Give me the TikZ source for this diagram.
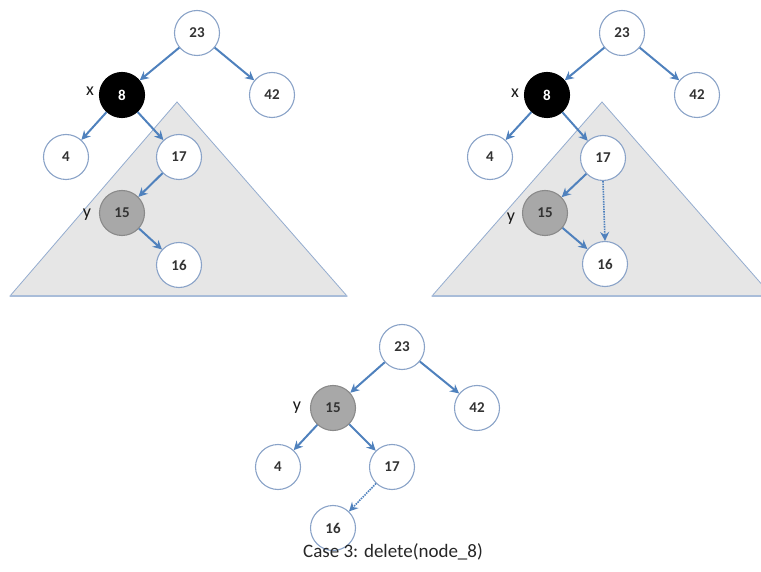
\documentclass[tikz,border=0pt]{standalone}
\usepackage{fontspec}
\setmainfont{Carlito}
\usetikzlibrary{arrows.meta}
\definecolor{arrowblue}{HTML}{4F81BD}
\definecolor{ringblue}{HTML}{8AA3C8}
\definecolor{trifill}{HTML}{E6E6E6}
\definecolor{triedge}{HTML}{94ACCF}
\definecolor{ynode}{HTML}{A8A8A8}
\definecolor{yedge}{HTML}{8A8A8A}
\tikzset{
  tnode/.style={circle, draw=ringblue, line width=1.1pt, fill=white, minimum size=45pt, inner sep=0pt, font=\fontsize{15}{17}\selectfont\bfseries, text=black!80},
  xnode/.style={tnode, fill=black, draw=black, text=white},
  ynodestyle/.style={tnode, fill=ynode, draw=yedge},
  edge/.style={draw=arrowblue, line width=2pt, -{Stealth[length=9pt,width=9pt,inset=3pt]}},
  dotedge/.style={edge, dash pattern=on 1.5pt off 1pt, line width=1.6pt},
  lbl/.style={font=\fontsize{18}{20}\selectfont, text=black!90},
  tri/.style={fill=trifill, draw=triedge, line width=0.8pt},
  triedgebase/.style={draw=triedge!80, line width=2pt}
}
\begin{document}
\begin{tikzpicture}[x=1pt,y=-1pt]
\useasboundingbox (0,0) rectangle (761,572);
\begin{scope}
\clip (0,0) rectangle (761,572);
% triangles
\path[tri] (177,102) -- (10,296) -- (347,296) -- cycle;
\path[triedgebase] (10,296) -- (347,296);
\path[tri] (602,102) -- (432,296) -- (772,296) -- cycle;
\path[triedgebase] (432,296) -- (772,296);
\end{scope}

% ---- left tree
\node[tnode] (a23) at (197,33) {23};
\node[xnode] (a8) at (122,95) {8};
\node[tnode] (a42) at (272,95) {42};
\node[tnode] (a4) at (66,157) {4};
\node[tnode] (a17) at (179,157) {17};
\node[ynodestyle] (a15) at (122,213) {15};
\node[tnode] (a16) at (179,265) {16};
\node[lbl] (ax) at (90,91) {x};
\node[lbl] (ay) at (87,215) {y};
\draw[edge] (a23) -- (a8);
\draw[edge] (a23) -- (a42);
\draw[edge] (a8) -- (a4);
\draw[edge] (a8) -- (a17);
\draw[edge] (a17) -- (a15);
\draw[edge] (a15) -- (a16);

% ---- right tree
\node[tnode] (b23) at (622,33) {23};
\node[xnode] (b8) at (547,95) {8};
\node[tnode] (b42) at (697,95) {42};
\node[tnode] (b4) at (490,157) {4};
\node[tnode] (b17) at (603,158) {17};
\node[ynodestyle] (b15) at (545,213) {15};
\node[tnode] (b16) at (605,264) {16};
\node[lbl] (bx) at (515,93) {x};
\node[lbl] (by) at (511,219) {y};
\draw[edge] (b23) -- (b8);
\draw[edge] (b23) -- (b42);
\draw[edge] (b8) -- (b4);
\draw[edge] (b8) -- (b17);
\draw[edge] (b17) -- (b15);
\draw[edge] (b15) -- (b16);
\draw[dotedge] (b17.south) -- (b16.north);

% ---- bottom tree
\node[tnode] (c23) at (402,347) {23};
\node[ynodestyle] (c15) at (333,408) {15};
\node[tnode] (c42) at (477,408) {42};
\node[tnode] (c4) at (278,467) {4};
\node[tnode] (c17) at (392,467) {17};
\node[tnode] (c16) at (333,528) {16};
\node[lbl] (cy) at (297,408) {y};
\draw[edge] (c23) -- (c15);
\draw[edge] (c23) -- (c42);
\draw[edge] (c15) -- (c4);
\draw[edge] (c15) -- (c17);
\draw[dotedge] (c17) -- (c16);

\node[font=\fontsize{19}{22}\selectfont, text=black!85] (cap) at (393,552) {Case 3: delete(node\_8)};
\end{tikzpicture}
\end{document}
